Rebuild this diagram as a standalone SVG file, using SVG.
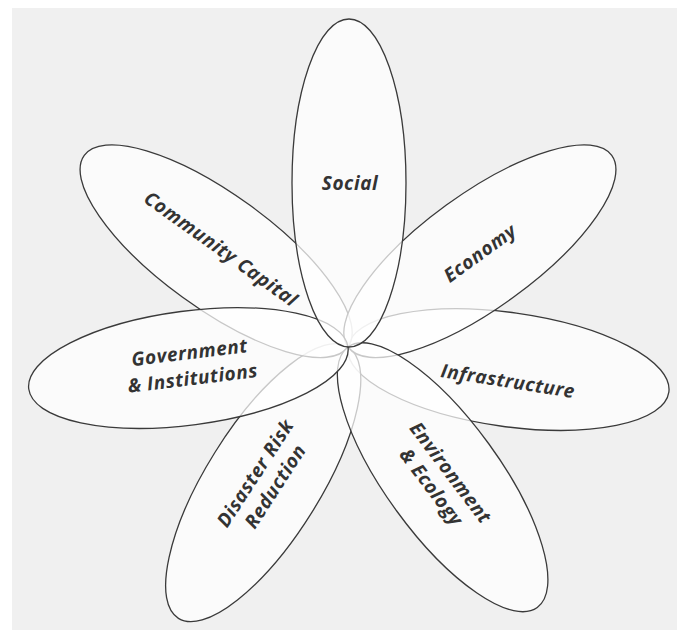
<svg xmlns="http://www.w3.org/2000/svg" width="677" height="630" viewBox="0 0 677 630">
  <style>
    .petal { fill: #ffffff; fill-opacity: 0.72; stroke: #3a3a3a; stroke-width: 1.3; }
    .lbl { font-family: "Open Sans", "Noto Sans", "Liberation Sans", sans-serif; font-style: italic; font-weight: 700; font-size: 19px; letter-spacing: 0.6px; fill: #333333; text-anchor: middle; }
  </style>
  <rect x="0" y="0" width="677" height="630" fill="#ffffff"/>
  <rect x="12" y="8" width="665" height="622" fill="#f0f0f0"/>

  <g id="petal-infrastructure">
    <ellipse class="petal" cx="0" cy="-162" rx="57" ry="162" transform="translate(348,347) rotate(98)"/>
    <text class="lbl" dy="0.35em" transform="translate(508,381) rotate(9)">Infrastructure</text>
  </g>
  <g id="petal-disaster">
    <ellipse class="petal" cx="0" cy="-160" rx="57" ry="160" transform="translate(348,347) rotate(212)"/>
    <text class="lbl" transform="translate(264,479) rotate(-57)"><tspan x="0" y="-4">Disaster Risk</tspan><tspan x="0" y="20">Reduction</tspan></text>
  </g>
  <g id="petal-community">
    <ellipse class="petal" cx="0" cy="-163" rx="57" ry="163" transform="translate(348,347) rotate(306)"/>
    <text class="lbl" dy="0.35em" transform="translate(221,249) rotate(35.5)">Community Capital</text>
  </g>
  <g id="petal-economy">
    <ellipse class="petal" cx="0" cy="-163" rx="57" ry="163" transform="translate(348,347) rotate(54)"/>
    <text class="lbl" dy="0.35em" transform="translate(480,253) rotate(-36)">Economy</text>
  </g>
  <g id="petal-environment">
    <ellipse class="petal" cx="0" cy="-161" rx="57" ry="161" transform="translate(348,347) rotate(144)"/>
    <text class="lbl" transform="translate(442,479) rotate(53)"><tspan x="0" y="-4">Environment</tspan><tspan x="0" y="20">&amp; Ecology</tspan></text>
  </g>
  <g id="petal-government">
    <ellipse class="petal" cx="0" cy="-161" rx="57" ry="161" transform="translate(348,347) rotate(262.5)"/>
    <text class="lbl" transform="translate(191,365) rotate(-7)"><tspan x="0" y="-6">Government</tspan><tspan x="0" y="20">&amp; Institutions</tspan></text>
  </g>
  <g id="petal-social">
    <ellipse class="petal" cx="0" cy="-164" rx="57" ry="164" transform="translate(349,347)"/>
    <text class="lbl" x="350" y="183" dy="0.35em">Social</text>
  </g>
  <g id="connectors"/>
</svg>
